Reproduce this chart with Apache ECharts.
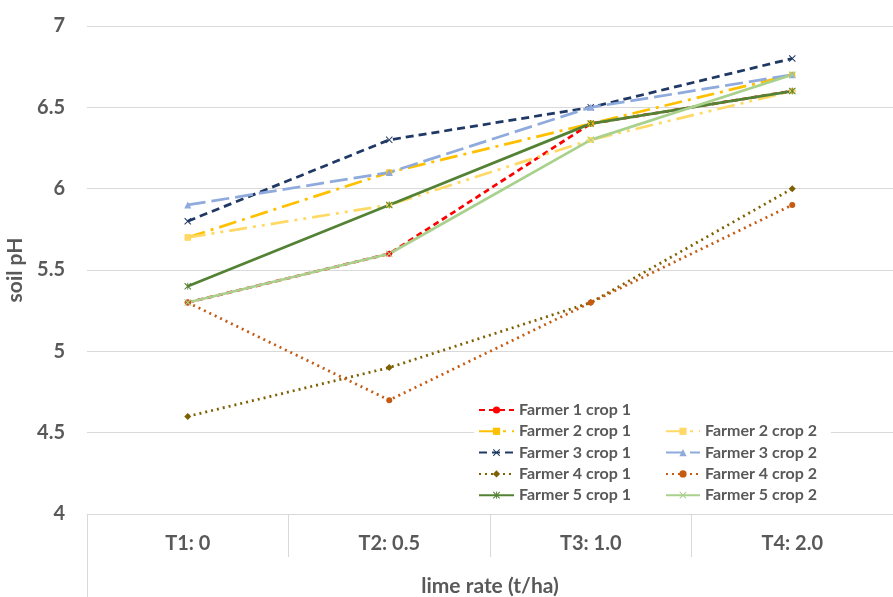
<!DOCTYPE html>
<html>
<head>
<meta charset="utf-8">
<script src="https://cdn.jsdelivr.net/npm/echarts@6/dist/echarts.min.js"></script>
<style>html,body{margin:0;padding:0;background:#fff;overflow:hidden}#c{width:893px;height:597px}</style>
</head>
<body>
<div id="c"></div>
<script>
var categories = ['T1: 0', 'T2: 0.5', 'T3: 1.0', 'T4: 2.0'];
var farmer1crop1 = [5.3, 5.6, 6.4, 6.6];
var farmer2crop1 = [5.7, 6.1, 6.4, 6.7];
var farmer2crop2 = [5.7, 5.9, 6.3, 6.6];
var farmer3crop1 = [5.8, 6.3, 6.5, 6.8];
var farmer3crop2 = [5.9, 6.1, 6.5, 6.7];
var farmer4crop1 = [4.6, 4.9, 5.3, 6.0];
var farmer4crop2 = [5.3, 4.7, 5.3, 5.9];
var farmer5crop1 = [5.4, 5.9, 6.4, 6.6];
var farmer5crop2 = [5.3, 5.6, 6.3, 6.7];

var X = 'path://M0,1L1,0L5,4L9,0L10,1L6,5L10,9L9,10L5,6L1,10L0,9L4,5Z';
var XS = 'path://M0,1L1,0L5,4L9,0L10,1L6,5L10,9L9,10L5,6L1,10L0,9L4,5Z M4.4,0L5.6,0L5.6,10L4.4,10Z';
var FONT = 'Lato';
var TXT = '#595959';

function s(name, data, color, type, symbol, size, width) {
  return {
    name: name, type: 'line', data: data, symbol: symbol, symbolSize: size,
    lineStyle: { color: color, width: width || 2.75, type: type },
    itemStyle: { color: color },
    emphasis: { disabled: true }
  };
}

var legendText = { color: TXT, fontFamily: FONT, fontSize: 16, fontWeight: 'bold', lineHeight: 16, padding: [0, 0, 0, 0] };

var chart = echarts.init(document.getElementById('c'));
chart.setOption({
  animation: false,
  backgroundColor: '#fff',
  grid: { left: 87, right: 0, top: 26, bottom: 83, containLabel: false, outerBoundsMode: 'none' },
  xAxis: {
    type: 'category', data: categories, boundaryGap: true,
    axisLine: { show: true, lineStyle: { color: '#D9D9D9', width: 1 } },
    axisTick: { show: true, length: 43, interval: 0, lineStyle: { color: '#D9D9D9' } },
    axisLabel: { margin: 20, color: TXT, fontFamily: FONT, fontSize: 20, fontWeight: 'bold', interval: 0 },
    name: 'lime rate (t/ha)', nameLocation: 'middle', nameGap: 62,
    nameTextStyle: { color: TXT, fontFamily: FONT, fontSize: 21, fontWeight: 'bold' }
  },
  yAxis: {
    type: 'value', min: 4, max: 7, interval: 0.5,
    axisLine: { show: false }, axisTick: { show: false },
    splitLine: { lineStyle: { color: '#D9D9D9', width: 1 } },
    axisLabel: { margin: 22, color: TXT, fontFamily: FONT, fontSize: 20, fontWeight: 'bold' },
    name: 'soil pH', nameLocation: 'middle', nameGap: 55, nameRotate: 90,
    nameTextStyle: { color: TXT, fontFamily: FONT, fontSize: 21, fontWeight: 'bold' }
  },
  graphic: [
    { type: 'rect', z: 3, silent: true, shape: { x: 474, y: 398, width: 357, height: 108 }, style: { fill: '#fff' } },
    { type: 'line', z: 3, silent: true, shape: { x1: 87.5, y1: 514, x2: 87.5, y2: 597 }, style: { stroke: '#D9D9D9', lineWidth: 1 } }
  ],
  legend: [
    {
      orient: 'vertical', left: 478, top: 402, padding: 0, itemWidth: 35, itemHeight: 9, itemGap: 5.3,
      data: ['Farmer 1 crop 1', 'Farmer 2 crop 1', 'Farmer 3 crop 1', 'Farmer 4 crop 1', 'Farmer 5 crop 1'],
      textStyle: legendText, selectedMode: false
    },
    {
      orient: 'vertical', left: 665, top: 423.3, padding: 0, itemWidth: 34, itemHeight: 9, itemGap: 5.3,
      data: ['Farmer 2 crop 2', 'Farmer 3 crop 2', 'Farmer 4 crop 2', 'Farmer 5 crop 2'],
      textStyle: legendText, selectedMode: false
    }
  ],
  series: [
    s('Farmer 1 crop 1', farmer1crop1, '#FF0000', [6, 4], 'circle', 6),
    s('Farmer 2 crop 1', farmer2crop1, '#FFC000', [18, 6, 3, 6], 'rect', 6),
    s('Farmer 2 crop 2', farmer2crop2, '#FFD966', [18, 6, 3, 6, 3, 6], 'rect', 6),
    s('Farmer 3 crop 1', farmer3crop1, '#203864', [8, 5], X, 7),
    s('Farmer 3 crop 2', farmer3crop2, '#8FAADC', [18, 6], 'triangle', 7),
    s('Farmer 4 crop 1', farmer4crop1, '#7F6000', [2, 4], 'diamond', 7),
    s('Farmer 4 crop 2', farmer4crop2, '#C55A11', [2, 4], 'circle', 6),
    s('Farmer 5 crop 1', farmer5crop1, '#548235', 'solid', XS, 7),
    s('Farmer 5 crop 2', farmer5crop2, '#A9D18E', 'solid', X, 7)
  ]
});
</script>
</body>
</html>
